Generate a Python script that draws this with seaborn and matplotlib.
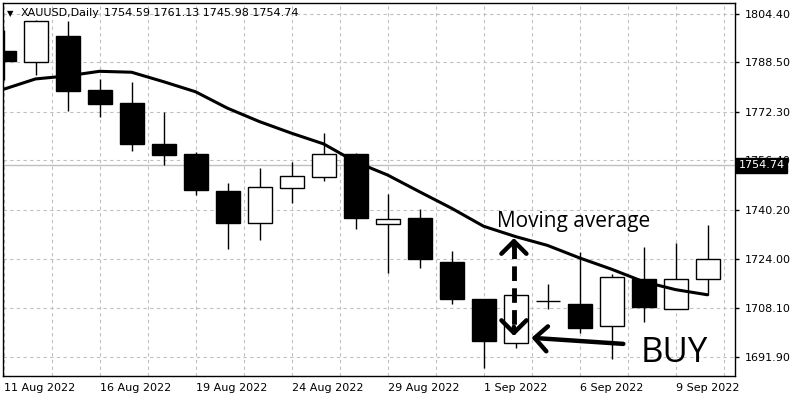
import numpy as np
import pandas as pd
import matplotlib.pyplot as plt
import matplotlib.transforms as mtransforms
import seaborn as sns

# Daily XAUUSD bars (11 Aug 2022 - 12 Sep 2022)
days = ['11 Aug 2022', '12 Aug 2022', '15 Aug 2022', '16 Aug 2022', '17 Aug 2022',
        '18 Aug 2022', '19 Aug 2022', '22 Aug 2022', '23 Aug 2022', '24 Aug 2022',
        '25 Aug 2022', '26 Aug 2022', '29 Aug 2022', '30 Aug 2022', '31 Aug 2022',
        '1 Sep 2022', '2 Sep 2022', '5 Sep 2022', '6 Sep 2022', '7 Sep 2022',
        '8 Sep 2022', '9 Sep 2022', '12 Sep 2022']
opens = [1792.3, 1788.8, 1797.2, 1779.5, 1775.1, 1761.8, 1758.5, 1746.4, 1736.0, 1747.4,
         1750.8, 1758.5, 1735.4, 1737.4, 1723.0, 1710.8, 1696.4, 1710.3, 1709.2, 1702.1,
         1717.4, 1707.6, 1717.6]
highs = [1799.2, 1802.3, 1802.2, 1783.1, 1782.2, 1772.2, 1759.0, 1749.1, 1753.8, 1755.8,
         1765.5, 1758.7, 1745.4, 1740.4, 1726.8, 1710.9, 1712.2, 1715.8, 1726.4, 1719.1,
         1727.9, 1729.2, 1735.2]
lows = [1782.8, 1784.4, 1772.7, 1770.7, 1759.6, 1754.9, 1745.0, 1727.3, 1730.3, 1742.3,
        1749.6, 1733.9, 1719.6, 1721.0, 1709.2, 1688.4, 1694.8, 1707.6, 1699.7, 1691.2,
        1703.5, 1707.6, 1712.2]
closes = [1789.0, 1802.1, 1779.2, 1775.0, 1761.8, 1758.2, 1746.7, 1736.0, 1747.6, 1751.3,
          1758.5, 1737.6, 1737.2, 1724.0, 1710.8, 1697.3, 1712.1, 1710.3, 1701.5, 1718.0,
          1708.2, 1717.4, 1724.0]
moving_avg = [1779.7, 1783.1, 1784.1, 1785.6, 1785.3, 1782.2, 1778.9, 1773.5, 1769.1, 1765.3,
              1761.8, 1755.9, 1751.6, 1746.1, 1740.7, 1734.8, 1731.4, 1728.5, 1724.4, 1720.7,
              1716.6, 1714.0, 1712.3]

price_ticks = [1691.90, 1708.10, 1724.00, 1740.20, 1756.40, 1772.30, 1788.50, 1804.40]
last_price = 1754.74
header = '1754.59 1761.13 1745.98 1754.74'

df = pd.DataFrame({'day': days, 'open': opens, 'high': highs, 'low': lows,
                   'close': closes, 'ma': moving_avg})
df['i'] = np.arange(len(df))
df['up'] = df['close'] > df['open']

sns.set_style('white')
plt.rcParams['font.family'] = ['DejaVu Sans']
plt.rcParams['text.color'] = 'black'

fig = plt.figure(figsize=(8, 4), dpi=100)
ax = fig.add_axes([0.0034, 0.06, 0.9154, 0.9333])

# grid and current price line
grid_kw = dict(color='#c0c0c0', lw=0.8, ls=(0, (3, 3)))
ax.axhline(last_price, color='#c0c0c0', lw=1, zorder=1)

# candles
ax.vlines(df['i'], df['low'], df['high'], color='black', lw=1, zorder=2)
ax.bar(df['i'], (df['close'] - df['open']).abs(),
       bottom=df[['open', 'close']].min(axis=1), width=0.75,
       color=np.where(df['up'], 'white', 'black'), edgecolor='black', lw=1, zorder=3)

# moving average
sns.lineplot(data=df, x='i', y='ma', ax=ax, color='black', lw=2.2, zorder=4)

ax.set_xlim(-0.025, 22.86)
ax.set_ylim(1685.67, 1808.11)

label_idx = list(range(0, len(days), 3))
ax.set_xticks(label_idx)
ax.set_xticklabels([days[k] for k in label_idx], ha='left', fontsize=8)
ax.set_xticks(np.arange(1.5, 23, 3), minor=True)
ax.tick_params(axis='x', which='major', length=3, width=1, pad=2, colors='black')
ax.tick_params(axis='x', which='minor', length=0)
ax.grid(axis='x', which='both', **grid_kw)

ax.yaxis.tick_right()
ax.set_yticks(price_ticks)
ax.set_yticklabels([f'{v:.2f}' for v in price_ticks], fontsize=8)
ax.tick_params(axis='y', length=3, width=1, pad=4, colors='black')
ax.grid(axis='y', **grid_kw)
ax.set_xlabel('')
ax.set_ylabel('')
for s in ax.spines.values():
    s.set_color('black')
    s.set_linewidth(1)

# header
ax.text(0.0102, 0.972, '▼', transform=ax.transAxes, fontsize=6, va='center', ha='center',
        color='black')
ax.text(0.0246, 0.972, 'XAUUSD,Daily', transform=ax.transAxes, fontsize=8, va='center',
        color='black')
ax.text(0.138, 0.972, header, transform=ax.transAxes, fontsize=8, va='center', color='black')

# last price box on the price scale
trans = mtransforms.blended_transform_factory(ax.transAxes, ax.transData)
ax.text(1.005, last_price, f'{last_price:.2f}', transform=trans, color='white', fontsize=8,
        va='center', ha='left', zorder=10,
        bbox=dict(boxstyle='square,pad=0.2', fc='black', ec='black'))

# annotations
ma_arrow_x, ma_arrow_top, ma_arrow_bottom = 15.95, 1730.9, 1698.8
ax.plot([ma_arrow_x, ma_arrow_x], [ma_arrow_top - 2, ma_arrow_bottom + 2], color='black',
        lw=3.5, ls=(0, (3, 1.5)), zorder=6)
head = dict(arrowstyle='->,head_length=0.9,head_width=0.9', color='black', lw=3.2,
            mutation_scale=10, shrinkA=0, shrinkB=0)
ax.annotate('', xy=(ma_arrow_x, ma_arrow_top), xytext=(ma_arrow_x, ma_arrow_top - 3),
            arrowprops=head, zorder=6)
ax.annotate('', xy=(ma_arrow_x, ma_arrow_bottom), xytext=(ma_arrow_x, ma_arrow_bottom + 3),
            arrowprops=head, zorder=6)
ax.annotate('', xy=(16.5, 1698.2), xytext=(19.37, 1696.2), arrowprops=head, zorder=6)

ax.text(17.83, 1734.6, 'Moving average', fontsize=15, family=['Open Sans', 'DejaVu Sans'],
        ha='center', va='baseline', color='black', zorder=7)
ax.text(19.92, 1690.4, 'BUY', fontsize=25, family=['Open Sans', 'DejaVu Sans'],
        ha='left', va='baseline', color='black', zorder=7)

fig.savefig('out.png', dpi=100)
